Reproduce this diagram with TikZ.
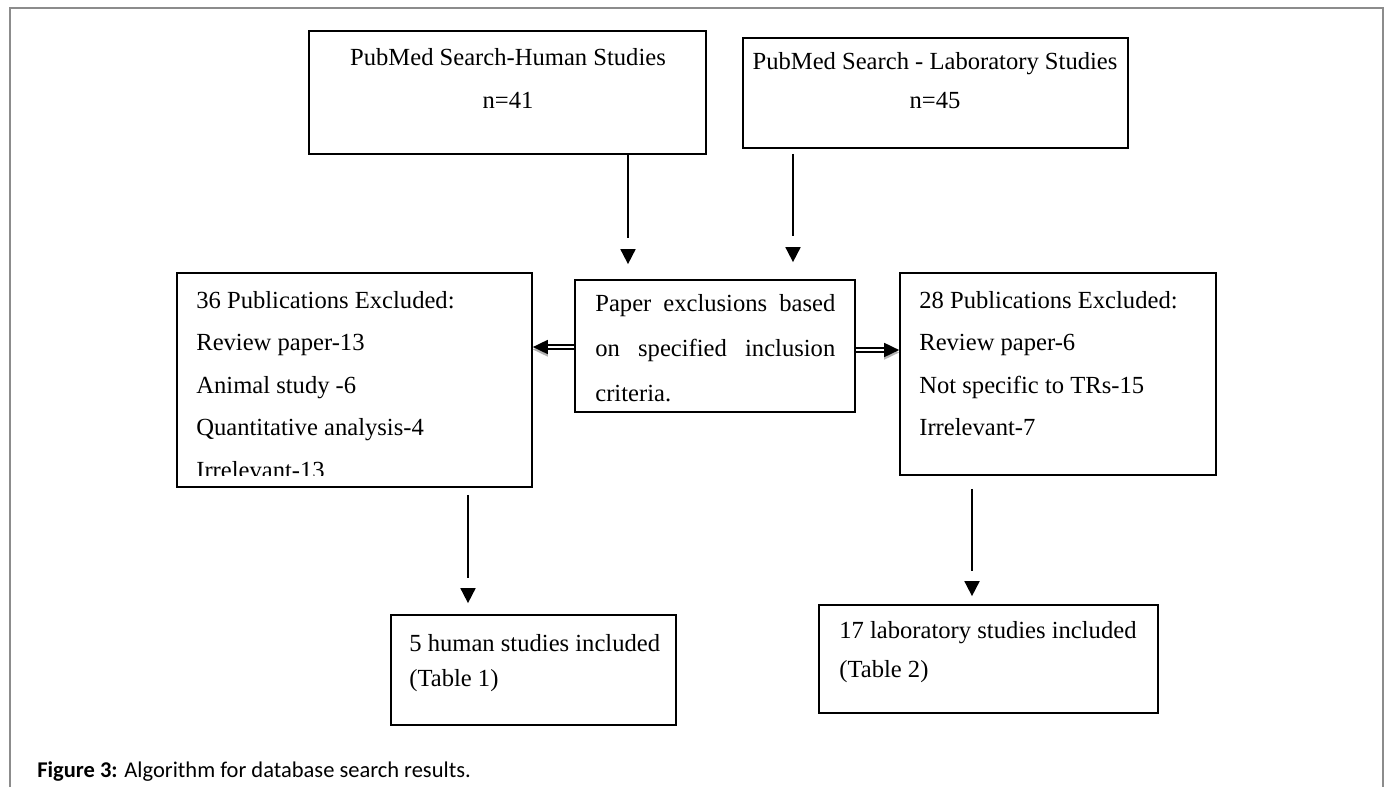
\documentclass[tikz,border=0pt]{standalone}
\usepackage{fontspec}
\setmainfont{Liberation Serif}
\newfontfamily\capfont{Carlito}
\usetikzlibrary{arrows.meta,positioning}

\definecolor{framegray}{RGB}{140,140,140}

\tikzset{
  box/.style={draw, line width=1pt, inner sep=0pt},
  txt/.style={inner sep=0pt, anchor=north west, align=left},
  conn/.style={line width=1pt},
  downarrow/.style={conn, dash pattern=on #1 off 3cm, -{Triangle[length=0.3cm,width=0.3cm]}},
  dbl/.style={double, double distance=1.1pt, line width=0.9pt, shorten >=0.28cm},
  dbltip/.style={line width=1pt, shorten <=#1, -{Triangle[length=0.3cm,width=0.28cm]}},
}

\begin{document}
\begin{tikzpicture}[x=0.02cm, y=-0.02cm, font=\fontsize{14}{24}\selectfont]
  \useasboundingbox (0,0) rectangle (1388,787);
  \draw[framegray, line width=1.1pt] (10,787) -- (10,8) -- (1383,8) -- (1383,787);

  % boxes
  \node[box, minimum width=7.94cm, minimum height=2.46cm] (hum) at (507.5,92.5) {};
  \node[box, minimum width=7.7cm, minimum height=2.2cm] (lab) at (935.5,93) {};
  \node[box, minimum width=5.6cm, minimum height=2.64cm] (crit) at (715,346) {};
  \node[box, minimum width=7.1cm, minimum height=4.28cm] (exhum) at (354.5,380) {};
  \node[box, minimum width=6.32cm, minimum height=4.04cm] (exlab) at (1058,374) {};
  \node[box, minimum width=5.7cm, minimum height=2.2cm] (inhum) at (533.5,670) {};
  \node[box, minimum width=6.78cm, minimum height=2.16cm] (inlab) at (988.5,659) {};

  % texts
  \node[txt, anchor=north, align=center, font=\fontsize{14}{24.4}\selectfont] (humtext) at (508,48)
    {PubMed Search-Human Studies\\ n=41};
  \node[txt, anchor=north, align=center, font=\fontsize{14}{22.2}\selectfont] (labtext) at (935,52)
    {PubMed Search - Laboratory Studies\\ n=45};
  \node[txt, font=\fontsize{14}{25.6}\selectfont] (crittext) at (595,294)
    {\makebox[4.8cm][s]{Paper exclusions based}\\ \makebox[4.8cm][s]{on specified inclusion}\\ criteria.};
  \begin{scope}
    \clip (exhum.north west) rectangle (532,475);
    \node[txt, font=\fontsize{14}{24.2}\selectfont] (exhumtext) at (196,291)
      {36 Publications Excluded:\\ Review paper-13\\ Animal study -6\\ Quantitative analysis-4\\ Irrelevant-13};
  \end{scope}
  \node[txt, font=\fontsize{14}{24.2}\selectfont] (exlabtext) at (919,291)
    {28 Publications Excluded:\\ Review paper-6\\ Not specific to TRs-15\\ Irrelevant-7};
  \node[txt, font=\fontsize{14}{19.9}\selectfont] (inhumtext) at (409,634)
    {5 human studies included\\ (Table 1)};
  \node[txt, font=\fontsize{14}{22.2}\selectfont] (inlabtext) at (839,621)
    {17 laboratory studies included\\ (Table 2)};

  % arrows
  \coordinate (hx) at (628,0);
  \coordinate (lx) at (793,0);
  \coordinate (ex) at (468,0);
  \coordinate (fx) at (972,0);
  \draw[downarrow=1.66cm, shorten >=0.3cm] (hum.south -| hx) -- (crit.north -| hx);
  \draw[downarrow=1.64cm, shorten <=0.1cm, shorten >=0.34cm] (lab.south -| lx) -- (crit.north -| lx);
  \draw[downarrow=1.66cm, shorten <=0.14cm, shorten >=0.22cm] (exhum.south -| ex) -- (inhum.north -| ex);
  \draw[downarrow=1.64cm, shorten <=0.26cm, shorten >=0.16cm] (exlab.south -| fx) -- (inlab.north -| fx);

  \coordinate (ly) at (0,347);
  \coordinate (ry) at (0,350);
  \draw[dbltip=0.56cm, gray!60, transform canvas={yshift=-0.05cm}] (crit.west |- ly) -- (exhum.east |- ly);
  \draw[dbltip=0.6cm, gray!60, transform canvas={yshift=-0.05cm}] (crit.east |- ry) -- (exlab.west |- ry);
  \draw[dbl] (crit.west |- ly) -- (exhum.east |- ly);
  \draw[dbltip=0.56cm] (crit.west |- ly) -- (exhum.east |- ly);
  \draw[dbl] (crit.east |- ry) -- (exlab.west |- ry);
  \draw[dbltip=0.6cm] (crit.east |- ry) -- (exlab.west |- ry);

  % caption
  \node[inner sep=0pt, anchor=base west, font=\capfont\fontsize{12.8}{15}\selectfont] (cap) at (37,777)
    {\textbf{Figure 3:} Algorithm for database search results.};
\end{tikzpicture}
\end{document}
